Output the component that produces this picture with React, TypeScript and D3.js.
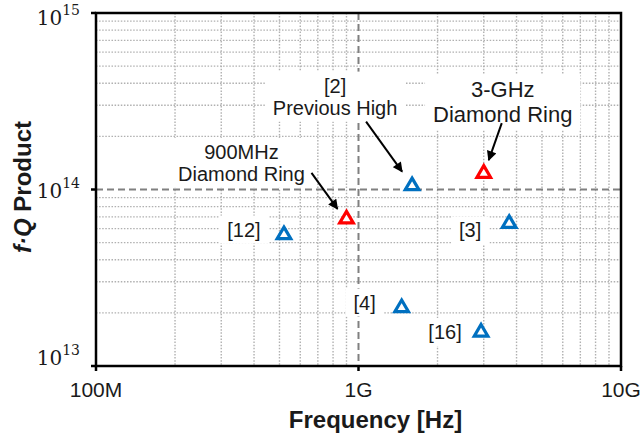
import React, { useEffect, useRef } from 'react';
import * as d3 from 'd3';

// resonator data
const refNames = ['[12]', '900MHz Diamond Ring', '[2]', '3-GHz Diamond Ring', '[3]', '[4]', '[16]'];
const freqs = [5.2e8, 9.0e8, 1.6e9, 3.0e9, 3.75e9, 1.46e9, 2.93e9];
const fqValues = [5.7e13, 7.0e13, 1.08e14, 1.27e14, 6.6e13, 2.2e13, 1.6e13];
const thisWork = [false, true, false, true, false, false, false];

const xTicks = [1e8, 1e9, 1e10];
const xTickLabels = ['100M', '1G', '10G'];
const yTicks = [1e13, 1e14, 1e15];
const yExponents = ['13', '14', '15'];

// label text placement relative to each point (pixels)
const labelLayout = [
    { lines: ['[12]'], dx: -40, dy: -3, size: 20, lh: 22 },
    { lines: ['900MHz', 'Diamond Ring'], dx: -105, dy: -54, size: 20, lh: 22, arrow: [-35, -44, -9, -8] },
    { lines: ['[2]', 'Previous High'], dx: -77, dy: -87, size: 20, lh: 22, arrow: [-46, -62, -10, -12] },
    { lines: ['3-GHz', 'Diamond Ring'], dx: 19, dy: -69, size: 22, lh: 25, arrow: [18, -48, 5, -11] },
    { lines: ['[3]'], dx: -39, dy: 9, size: 20, lh: 22 },
    { lines: ['[4]'], dx: -37, dy: -3, size: 20, lh: 22 },
    { lines: ['[16]'], dx: -36, dy: 2, size: 20, lh: 22 },
];

const BLUE = '#0070c0';
const RED = '#ff0000';

const FQChart = () => {
    const ref = useRef(null);

    useEffect(() => {
        const W = 641, H = 437;
        const margin = { top: 13, right: 20, bottom: 71, left: 96 };
        const x0 = margin.left, x1 = W - margin.right;
        const y0 = margin.top, y1 = H - margin.bottom;

        d3.select(ref.current).selectAll('*').remove();

        const svg = d3.select(ref.current)
            .append('svg')
            .attr('width', W)
            .attr('height', H)
            .style('display', 'block')
            .style('font-family', '"Liberation Sans", Arial, sans-serif');

        const x = d3.scaleLog().domain([1e8, 1e10]).range([x0, x1]);
        const y = d3.scaleLog().domain([1e13, 1e15]).range([y1, y0]);

        // minor grid
        const minorX = [];
        const minorY = [];
        for (let d = 1e8; d < 1e10; d *= 10) for (let k = 2; k <= 9; k++) minorX.push(d * k);
        for (let d = 1e13; d < 1e15; d *= 10) for (let k = 2; k <= 9; k++) minorY.push(d * k);

        const grid = svg.append('g')
            .attr('stroke', '#b0b0b0')
            .attr('stroke-width', 1.4)
            .attr('stroke-dasharray', '1.5 1.6');
        grid.selectAll('.gx').data(minorX).enter().append('line')
            .attr('x1', d => x(d)).attr('x2', d => x(d))
            .attr('y1', y0).attr('y2', y1);
        grid.selectAll('.gy').data(minorY).enter().append('line')
            .attr('y1', d => y(d)).attr('y2', d => y(d))
            .attr('x1', x0).attr('x2', x1);

        // major dashed grid
        const major = svg.append('g')
            .attr('stroke', '#808080')
            .attr('stroke-width', 2)
            .attr('stroke-dasharray', '7 4');
        major.append('line')
            .attr('x1', x(1e9)).attr('x2', x(1e9)).attr('y1', y0).attr('y2', y1);
        major.append('line')
            .attr('y1', y(1e14)).attr('y2', y(1e14)).attr('x1', x0).attr('x2', x1);

        // arrowhead
        svg.append('defs').append('marker')
            .attr('id', 'arr')
            .attr('markerUnits', 'userSpaceOnUse')
            .attr('viewBox', '0 0 10 10')
            .attr('refX', 9).attr('refY', 5)
            .attr('markerWidth', 11).attr('markerHeight', 10)
            .attr('orient', 'auto')
            .append('path')
            .attr('d', 'M0,0 L10,5 L0,10 Z')
            .attr('fill', '#000');

        const pts = freqs.map((f, i) => ({ px: x(f), py: y(fqValues[i]), i }));

        // labels with white boxes
        pts.forEach(p => {
            const lay = labelLayout[p.i];
            const g = svg.append('g');
            const cx = p.px + lay.dx;
            const cy = p.py + lay.dy;
            const n = lay.lines.length;
            lay.lines.forEach((t, k) => {
                g.append('text')
                    .attr('x', cx)
                    .attr('y', cy + (k - (n - 1) / 2) * lay.lh)
                    .attr('text-anchor', 'middle')
                    .attr('dominant-baseline', 'central')
                    .attr('font-size', lay.size)
                    .attr('fill', '#1a1a1a')
                    .text(t);
            });
            const bb = g.node().getBBox();
            g.insert('rect', ':first-child')
                .attr('x', bb.x - 8).attr('y', bb.y - 3)
                .attr('width', bb.width + 16).attr('height', bb.height + 6)
                .attr('fill', '#fff');
            if (lay.arrow) {
                svg.append('line')
                    .attr('x1', p.px + lay.arrow[0]).attr('y1', p.py + lay.arrow[1])
                    .attr('x2', p.px + lay.arrow[2]).attr('y2', p.py + lay.arrow[3])
                    .attr('stroke', '#000')
                    .attr('stroke-width', 2)
                    .attr('marker-end', 'url(#arr)');
            }
        });

        // triangle markers
        svg.selectAll('.pt').data(pts).enter().append('path')
            .attr('d', 'M0,-6 L6.8,5.6 L-6.8,5.6 Z')
            .attr('transform', d => `translate(${d.px},${d.py + 0.5})`)
            .attr('fill', '#fff')
            .attr('stroke', d => (thisWork[d.i] ? RED : BLUE))
            .attr('stroke-width', 3.2)
            .attr('stroke-linejoin', 'miter');

        // frame and ticks
        svg.append('rect')
            .attr('x', x0).attr('y', y0)
            .attr('width', x1 - x0).attr('height', y1 - y0)
            .attr('fill', 'none')
            .attr('stroke', '#000')
            .attr('stroke-width', 2.5);

        svg.selectAll('.xt').data(xTicks).enter().append('line')
            .attr('x1', d => x(d)).attr('x2', d => x(d))
            .attr('y1', y1).attr('y2', y1 + 5)
            .attr('stroke', '#000').attr('stroke-width', 2.5);
        svg.selectAll('.yt').data(yTicks).enter().append('line')
            .attr('y1', d => y(d)).attr('y2', d => y(d))
            .attr('x1', x0 - 5).attr('x2', x0)
            .attr('stroke', '#000').attr('stroke-width', 2.5);

        svg.selectAll('.xl').data(xTicks).enter().append('text')
            .attr('x', d => x(d))
            .attr('y', y1 + 23)
            .attr('text-anchor', 'middle')
            .attr('dominant-baseline', 'central')
            .attr('font-size', 21)
            .attr('fill', '#1a1a1a')
            .text((d, i) => xTickLabels[i]);

        const yl = svg.selectAll('.yl').data(yTicks).enter().append('text')
            .attr('x', 80)
            .attr('y', d => Math.min(Math.max(y(d) + 8, 25), 365))
            .attr('text-anchor', 'end')
            .attr('font-family', '"DejaVu Serif", "Liberation Serif", serif')
            .attr('fill', '#1a1a1a');
        yl.append('tspan').attr('font-size', 20).text('10');
        yl.append('tspan').attr('font-size', 14).attr('dy', -10).text((d, i) => yExponents[i]);

        // axis titles
        svg.append('text')
            .attr('x', (x0 + x1) / 2 + 17)
            .attr('y', 419)
            .attr('text-anchor', 'middle')
            .attr('dominant-baseline', 'central')
            .attr('font-size', 24)
            .attr('font-weight', 'bold')
            .attr('fill', '#1a1a1a')
            .text('Frequency [Hz]');

        const yt = svg.append('text')
            .attr('transform', 'translate(22,187) rotate(-90)')
            .attr('text-anchor', 'middle')
            .attr('dominant-baseline', 'central')
            .attr('font-size', 24)
            .attr('font-weight', 'bold')
            .attr('fill', '#1a1a1a');
        yt.append('tspan').attr('font-style', 'italic').text('f·Q');
        yt.append('tspan').text(' Product');
    }, []);

    return <div ref={ref} style={{ position: 'absolute', left: 0, top: 0 }} />;
};

export default function App() {
    return <FQChart />;
}
